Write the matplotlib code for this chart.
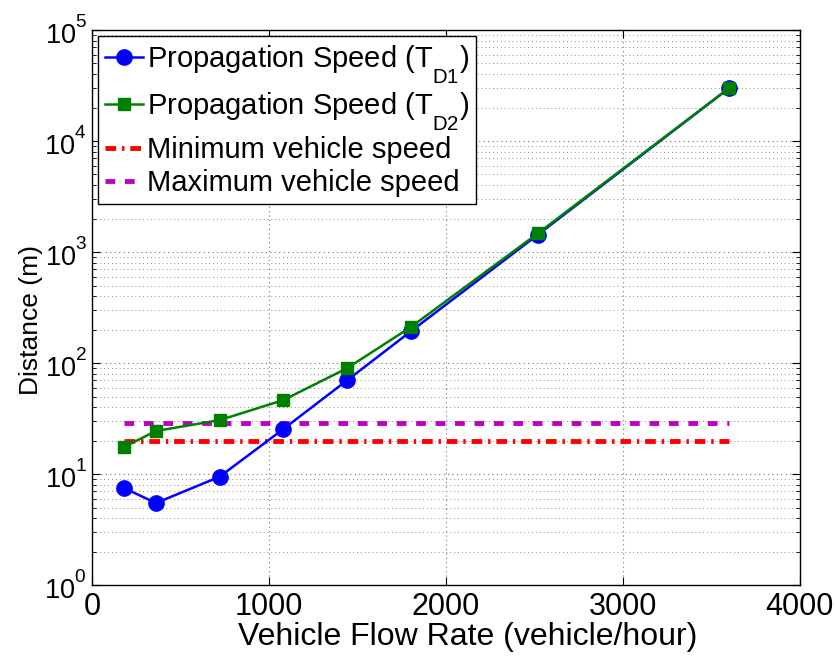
import matplotlib
matplotlib.use("Agg")
import matplotlib.pyplot as plt
from matplotlib import _mathtext
from matplotlib.ticker import LogLocator, LogFormatterMathtext, NullFormatter, MultipleLocator

plt.rcParams['font.family'] = ['Liberation Sans', 'DejaVu Sans']
plt.rcParams['mathtext.fontset'] = 'custom'
plt.rcParams['mathtext.rm'] = 'Liberation Sans'
plt.rcParams['mathtext.it'] = 'Liberation Sans:italic'
plt.rcParams['mathtext.bf'] = 'Liberation Sans:bold'

# Lower subscripts and higher superscripts than the mathtext defaults
_mathtext.FontConstantsBase.sub1 = 1.0
_mathtext.FontConstantsBase.sup1 = 1.05

# Vehicle flow rates (vehicle/hour)
flow_rate = [180, 360, 720, 1080, 1440, 1800, 2520, 3600]
# Propagation distance for the two delay definitions (m)
dist_td1 = [7.5, 5.5, 9.5, 25.5, 70, 193, 1440, 30000]
dist_td2 = [17.6, 24.5, 30.7, 46.5, 90, 211, 1480, 30000]
# Reference speed lines
min_speed = 20
max_speed = 29
speed_range = [180, 3600]

fig = plt.figure(figsize=(8.35, 6.62), dpi=100)
ax = fig.add_axes([0.1105, 0.1159, 0.8475, 0.8388])

ax.plot(flow_rate, dist_td1, '-', color=(0, 0, 1), lw=1.8, marker='o',
        markersize=11, label=r'Propagation Speed (T$_{\mathrm{D1}}$)', zorder=3)
ax.plot(flow_rate, dist_td2, '-', color=(0, 0.5, 0), lw=1.8, marker='s',
        markersize=9, label=r'Propagation Speed (T$_{\mathrm{D2}}$)', zorder=4)
ax.plot(speed_range, [min_speed, min_speed], color=(1, 0, 0), lw=3.5,
        dashes=(2.2, 1.2, 0.5, 1.2), label='Minimum vehicle speed', zorder=2)
ax.plot(speed_range, [max_speed, max_speed], color=(0.75, 0, 0.75), lw=3.5,
        dashes=(2.0, 2.0), label='Maximum vehicle speed', zorder=2)

ax.set_yscale('log')
ax.set_xlim(0, 4000)
ax.set_ylim(1, 1e5)
ax.xaxis.set_major_locator(MultipleLocator(1000))
ax.yaxis.set_major_locator(LogLocator(base=10, numticks=10))
ax.yaxis.set_minor_locator(LogLocator(base=10, subs=range(2, 10), numticks=20))
ax.yaxis.set_major_formatter(LogFormatterMathtext())
ax.yaxis.set_minor_formatter(NullFormatter())

ax.grid(True, which='major', linestyle=(0, (1, 3)), color='0.45', lw=0.8)
ax.grid(True, which='minor', axis='y', linestyle=(0, (1, 3)), color='0.55', lw=0.7)
ax.tick_params(which='both', direction='in', top=True, right=True)
ax.tick_params(which='major', length=6, width=0.8, pad=5)
ax.tick_params(axis='x', labelsize=22)
ax.tick_params(axis='y', labelsize=19.5, pad=4)
ax.tick_params(which='minor', length=3, width=0.6)
for s in ax.spines.values():
    s.set_linewidth(1.0)

ax.set_xlabel('Vehicle Flow Rate (vehicle/hour)', fontsize=23)
ax.set_ylabel('Distance (m)', fontsize=19)
ax.xaxis.set_label_coords(0.531, -0.066)
ax.yaxis.set_label_coords(-0.069, 0.477)

leg = ax.legend(loc='upper left', fontsize=21, frameon=True, fancybox=False,
                edgecolor='black', framealpha=1, borderaxespad=0.2,
                handlelength=1.3, handletextpad=0.12, labelspacing=0.16,
                borderpad=0.25)
leg.get_frame().set_linewidth(1.0)

fig.savefig('out.png', dpi=100)
